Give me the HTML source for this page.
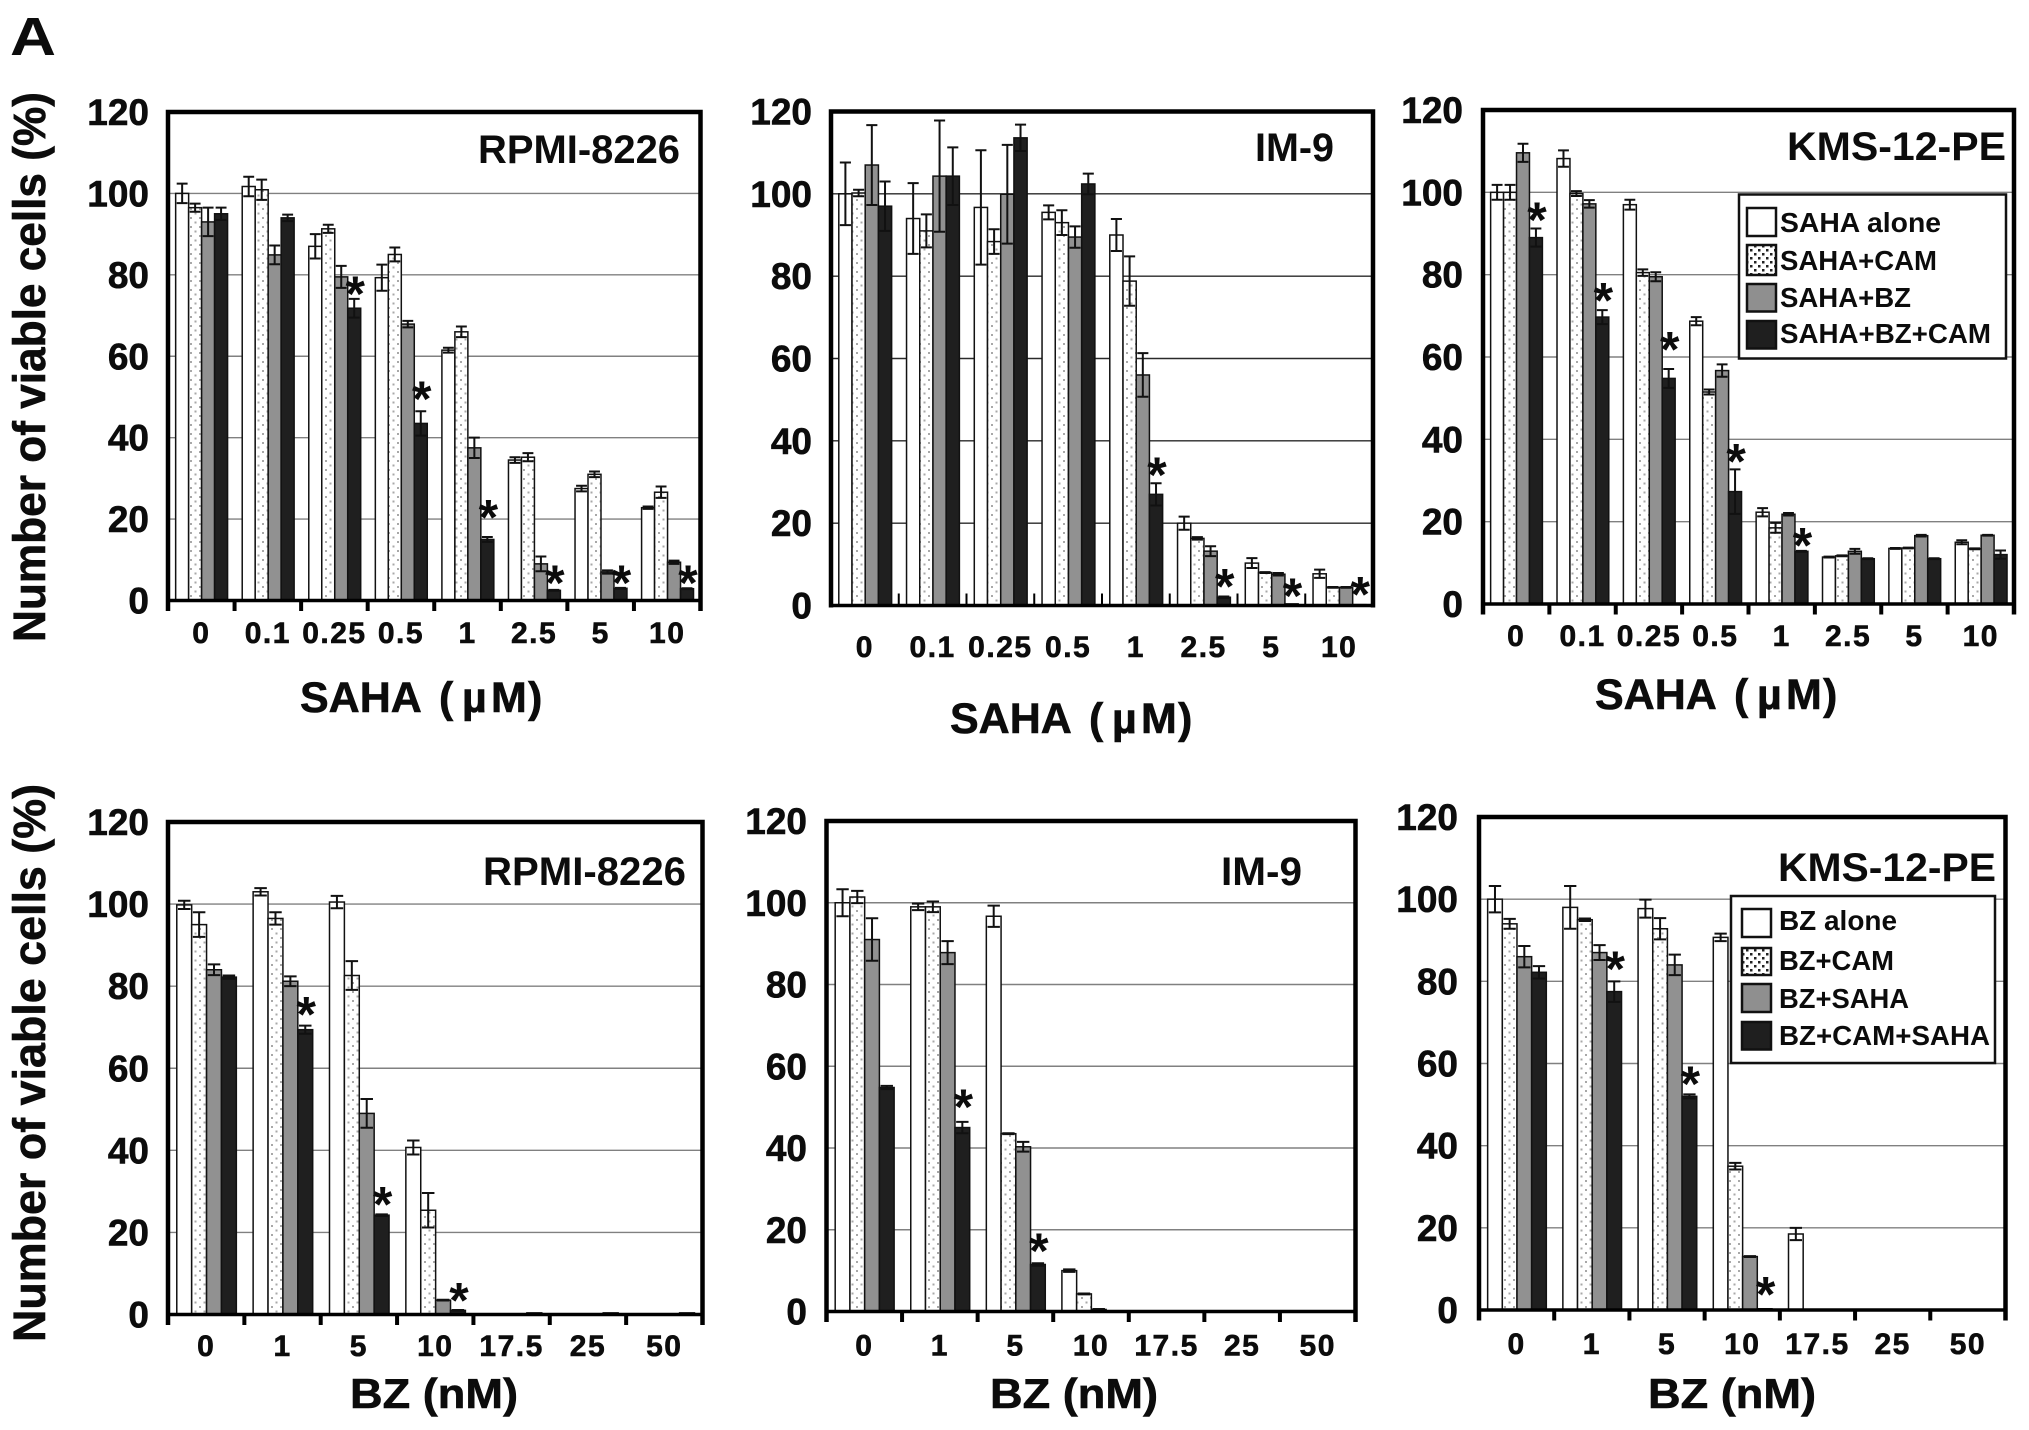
<!DOCTYPE html>
<html lang="en">
<head>
<meta charset="utf-8">
<title>Number of viable cells by SAHA and BZ dose</title>
<style>
html,body{margin:0;padding:0;background:#fff;}
svg{display:block;font-family:"Liberation Sans",sans-serif;font-weight:bold;}
text{fill:#0c0c0c;}
.axt{stroke:#0c0c0c;stroke-width:.6px;}
.leg{font-size:28px;}
.panel-label{font-size:40px;}
</style>
</head>
<body>
<svg id="figure" xmlns="http://www.w3.org/2000/svg" width="2029" height="1430" viewBox="0 0 2029 1430">
  <defs>
    <pattern id="stipple" width="9" height="9" patternUnits="userSpaceOnUse">
      <rect width="9" height="9" fill="#fff"/>
      <rect x="1" y="1" width="2" height="2" fill="#a8a8a8"/>
      <rect x="5.5" y="5.5" width="2" height="2" fill="#a8a8a8"/>
    </pattern>
    <pattern id="stipple-dark" width="8" height="8" patternUnits="userSpaceOnUse">
      <rect width="8" height="8" fill="#fff"/>
      <rect x="1" y="1" width="2.5" height="2.5" fill="#222"/>
      <rect x="5" y="5" width="2.5" height="2.5" fill="#222"/>
    </pattern>
  </defs>
  <rect width="2029" height="1430" fill="#fff"/>
  <g id="marks"></g>

  <text x="10" y="55" font-size="54" textLength="46" lengthAdjust="spacingAndGlyphs">A</text>

  <text class="axt" transform="translate(45,642) rotate(-90)" font-size="45" textLength="550" lengthAdjust="spacingAndGlyphs">Number of viable cells (%)</text>
  <text class="axt" transform="translate(45,1342) rotate(-90)" font-size="45" textLength="558" lengthAdjust="spacingAndGlyphs">Number of viable cells (%)</text>

  <text class="panel-label" x="478" y="163" textLength="202" lengthAdjust="spacingAndGlyphs">RPMI-8226</text>
  <text class="panel-label" x="1255" y="161" textLength="79" lengthAdjust="spacingAndGlyphs">IM-9</text>
  <text class="panel-label" x="1787" y="160" textLength="219" lengthAdjust="spacingAndGlyphs">KMS-12-PE</text>
  <text class="panel-label" x="483" y="885" textLength="203" lengthAdjust="spacingAndGlyphs">RPMI-8226</text>
  <text class="panel-label" x="1221" y="885" textLength="81" lengthAdjust="spacingAndGlyphs">IM-9</text>
  <text class="panel-label" x="1778" y="881" textLength="218" lengthAdjust="spacingAndGlyphs">KMS-12-PE</text>

  <text class="axt" y="712" font-size="43"><tspan x="300">SAHA</tspan><tspan x="439">(</tspan><tspan x="462">µ</tspan><tspan x="491">M</tspan><tspan x="528">)</tspan></text>
  <text class="axt" y="733" font-size="43"><tspan x="950">SAHA</tspan><tspan x="1089">(</tspan><tspan x="1112">µ</tspan><tspan x="1141">M</tspan><tspan x="1178">)</tspan></text>
  <text class="axt" y="709" font-size="43"><tspan x="1595">SAHA</tspan><tspan x="1734">(</tspan><tspan x="1757">µ</tspan><tspan x="1786">M</tspan><tspan x="1823">)</tspan></text>
  <text class="axt" x="350" y="1408" font-size="42" textLength="168" lengthAdjust="spacingAndGlyphs">BZ (nM)</text>
  <text class="axt" x="990" y="1408" font-size="42" textLength="168" lengthAdjust="spacingAndGlyphs">BZ (nM)</text>
  <text class="axt" x="1648" y="1408" font-size="42" textLength="168" lengthAdjust="spacingAndGlyphs">BZ (nM)</text>

  <g transform="translate(-3,0)">
    <rect x="1742" y="194.5" width="267" height="164" fill="#fff" stroke="#111" stroke-width="2.5"/>
    <g>
      <rect x="1750" y="208" width="29" height="28" fill="#fff" stroke="#111" stroke-width="2.5"/>
      <text class="leg" x="1783" y="232" textLength="161" lengthAdjust="spacingAndGlyphs">SAHA alone</text>
    </g>
    <g>
      <rect x="1750" y="245" width="29" height="30" fill="url(#stipple-dark)" stroke="#111" stroke-width="2.5"/>
      <text class="leg" x="1783" y="270" textLength="157" lengthAdjust="spacingAndGlyphs">SAHA+CAM</text>
    </g>
    <g>
      <rect x="1750" y="284" width="29" height="27.5" fill="#8f8f8f" stroke="#111" stroke-width="2.5"/>
      <text class="leg" x="1783" y="307" textLength="131" lengthAdjust="spacingAndGlyphs">SAHA+BZ</text>
    </g>
    <g>
      <rect x="1750" y="321" width="29" height="27.5" fill="#1f1f1f" stroke="#111" stroke-width="2.5"/>
      <text class="leg" x="1783" y="343" textLength="211" lengthAdjust="spacingAndGlyphs">SAHA+BZ+CAM</text>
    </g>
  </g>

  <g transform="translate(-3,0)">
    <rect x="1734" y="896" width="264" height="167" fill="#fff" stroke="#111" stroke-width="2.5"/>
    <g>
      <rect x="1745" y="909" width="29" height="28" fill="#fff" stroke="#111" stroke-width="2.5"/>
      <text class="leg" x="1782" y="930" textLength="118" lengthAdjust="spacingAndGlyphs">BZ alone</text>
    </g>
    <g>
      <rect x="1745" y="948" width="29" height="27" fill="url(#stipple-dark)" stroke="#111" stroke-width="2.5"/>
      <text class="leg" x="1782" y="970" textLength="115" lengthAdjust="spacingAndGlyphs">BZ+CAM</text>
    </g>
    <g>
      <rect x="1745" y="984" width="29" height="28" fill="#8f8f8f" stroke="#111" stroke-width="2.5"/>
      <text class="leg" x="1782" y="1008" textLength="130" lengthAdjust="spacingAndGlyphs">BZ+SAHA</text>
    </g>
    <g>
      <rect x="1745" y="1022" width="29" height="27.5" fill="#1f1f1f" stroke="#111" stroke-width="2.5"/>
      <text class="leg" x="1782" y="1045" textLength="211" lengthAdjust="spacingAndGlyphs">BZ+CAM+SAHA</text>
    </g>
  </g>
</svg>

<script>
// ---- categories and tick labels
const sahaDoses = ["0", "0.1", "0.25", "0.5", "1", "2.5", "5", "10"];
const bzDoses = ["0", "1", "5", "10", "17.5", "25", "50"];
const yTicks = [0, 20, 40, 60, 80, 100, 120];

// ---- RPMI-8226, SAHA titration
const rpmiSahaAlone = [100, 101.7, 87, 79.3, 61.5, 34.5, 27.5, 22.8];
const rpmiSahaCam = [96.5, 100.9, 91.3, 85, 66, 35.2, 31, 26.6];
const rpmiSahaBz = [93, 84.9, 79.5, 67.9, 37.5, 9, 7, 9.4];
const rpmiSahaTriple = [95, 94, 71.8, 43.5, 15, 2.5, 3, 2.9];
const rpmiSahaAloneErr = [2.4, 2.4, 3, 3.2, 0.6, 0.7, 0.7, 0.3];
const rpmiSahaCamErr = [1, 2.5, 1, 1.7, 1.3, 1, 0.7, 1.4];
const rpmiSahaBzErr = [3.5, 2.3, 2.7, 0.8, 2.5, 1.8, 0.4, 0.4];
const rpmiSahaTripleErr = [1.5, 0.8, 2.3, 3, 0.6, 0.1, 0.1, 0.1];
const rpmiSahaStarGroups = [2, 3, 4, 5, 6, 7];
const rpmiSahaStarLevels = [77.3, 51.5, 22.3, 6.3, 6.3, 6.3];

// ---- IM-9, SAHA titration
const imSahaAlone = [100, 94, 96.7, 95.5, 90, 20, 10.3, 7.7];
const imSahaCam = [100.2, 91, 88.4, 93, 78.8, 16.3, 8, 4.4];
const imSahaBz = [107, 104.3, 99.9, 89.5, 56, 13.2, 7.6, 4.4];
const imSahaTriple = [97, 104.3, 113.6, 102.4, 27, 2, 0.4, 0.2];
const imSahaAloneErr = [7.6, 8.6, 13.9, 1.7, 3.9, 1.6, 1.2, 1];
const imSahaCamErr = [0.8, 4, 3, 3, 6, 0.3, 0.1, 0.1];
const imSahaBzErr = [9.7, 13.5, 12, 2.6, 5.3, 1.2, 0.3, 0.1];
const imSahaTripleErr = [6, 7, 3.2, 2.5, 2.7, 0.2, 0, 0];
const imSahaStarGroups = [4, 5, 6, 7];
const imSahaStarLevels = [33.7, 6.5, 4.2, 4.6];

// ---- KMS-12-PE, SAHA titration
const kmsSahaAlone = [100, 108.2, 97, 68.7, 22.3, 11.4, 13.5, 15];
const kmsSahaCam = [100, 99.7, 80.5, 51.5, 18.5, 11.7, 13.6, 13.4];
const kmsSahaBz = [109.6, 97.2, 79.5, 56.7, 21.8, 12.8, 16.6, 16.7];
const kmsSahaTriple = [89, 69.7, 54.8, 27.3, 12.8, 11, 11, 12];
const kmsSahaAloneErr = [1.8, 2, 1.2, 1, 1, 0.1, 0.1, 0.5];
const kmsSahaCamErr = [1.8, 0.6, 0.8, 0.6, 1.2, 0.1, 0.1, 0.1];
const kmsSahaBzErr = [2.2, 0.9, 1.1, 1.5, 0.3, 0.6, 0.2, 0.1];
const kmsSahaTripleErr = [2.2, 1.7, 2.3, 5.4, 0.1, 0.1, 0.1, 1];
const kmsSahaStarGroups = [0, 1, 2, 3, 4];
const kmsSahaStarLevels = [95.2, 75.7, 63.8, 36.5, 16.2];

// ---- RPMI-8226, BZ titration
const rpmiBzAlone = [99.8, 103, 100.5, 40.7, 0, 0, 0];
const rpmiBzCam = [95, 96.5, 82.6, 25.4, 0.1, 0, 0];
const rpmiBzSaha = [84, 81.2, 49, 3.5, 0.1, 0.1, 0.1];
const rpmiBzTriple = [82.2, 69.4, 24.2, 1, 0.4, 0.4, 0.4];
const rpmiBzAloneErr = [1, 0.9, 1.5, 1.7, 0, 0, 0];
const rpmiBzCamErr = [3, 1.5, 3.5, 4.2, 0, 0, 0];
const rpmiBzSahaErr = [1.3, 1.2, 3.5, 0.1, 0, 0, 0];
const rpmiBzTripleErr = [0.4, 1, 0.2, 0.1, 0, 0, 0];
const rpmiBzStarGroups = [1, 2, 3];
const rpmiBzStarLevels = [75.1, 28.7, 5.4];

// ---- IM-9, BZ titration
const imBzAlone = [100, 99, 96.7, 10, 0, 0, 0];
const imBzCam = [101.4, 99, 43.5, 4.3, 0, 0, 0];
const imBzSaha = [91, 87.8, 40.3, 0.5, 0, 0, 0];
const imBzTriple = [54.8, 45, 11.5, 0, 0, 0, 0];
const imBzAloneErr = [3.3, 0.8, 2.6, 0.3, 0, 0, 0];
const imBzCamErr = [1.5, 1.3, 0.1, 0.1, 0, 0, 0];
const imBzSahaErr = [5.2, 2.8, 1.2, 0.1, 0, 0, 0];
const imBzTripleErr = [0.4, 1.4, 0.3, 0, 0, 0, 0];
const imBzStarGroups = [1, 2];
const imBzStarLevels = [52, 16.7];

// ---- KMS-12-PE, BZ titration
const kmsBzAlone = [100, 98, 97.7, 90.7, 18.5, 0, 0];
const kmsBzCam = [94, 95, 92.8, 35, 0, 0, 0];
const kmsBzSaha = [86, 87, 84, 13, 0, 0, 0];
const kmsBzTriple = [82.2, 77.5, 52, 0.3, 0, 0, 0];
const kmsBzAloneErr = [3.2, 5.2, 2.2, 0.9, 1.5, 0, 0];
const kmsBzCamErr = [1.2, 0.3, 2.6, 0.8, 0, 0, 0];
const kmsBzSahaErr = [2.6, 1.8, 2.5, 0.1, 0, 0, 0];
const kmsBzTripleErr = [1.5, 2.5, 0.5, 0, 0, 0, 0];
const kmsBzStarGroups = [1, 2, 3];
const kmsBzStarLevels = [84.9, 57, 5.7];

// ---- series styling
const seriesFills = ["#ffffff", "url(#stipple)", "#919191", "#1f1f1f"];

const SVGNS = "http://www.w3.org/2000/svg";
const marksLayer = document.getElementById("marks");

function make(parent, tag, attrs, text) {
  const node = document.createElementNS(SVGNS, tag);
  for (const key in attrs) node.setAttribute(key, attrs[key]);
  if (text !== undefined) node.textContent = text;
  parent.appendChild(node);
  return node;
}

function drawPanel(panel) {
  const { left, right, top, bottom, labelRight, tickBase, inward, gridColor, cats, values, errors, starGroups, starLevels, name } = panel;

  const root = make(marksLayer, "g", {});
  
  

  const yScale = v => bottom - v * (bottom - top) / 120;
  const groupW = (right - left) / cats.length;
  const barW = groupW * 0.195;
  const groupX = i => left + groupW * i;
  const barX = (g, s) => groupX(g) + groupW * 0.115 + barW * s;

  yTicks.forEach(t => {
    if (t !== 0 && t !== 120) {
      const grid = make(root, "line", { x1: left, x2: right, y1: yScale(t), y2: yScale(t), stroke: gridColor, "stroke-width": 1.4 });
      
      
    }
    const label = make(root, "text", { x: labelRight, y: yScale(t) + 13, "font-size": 37, "text-anchor": "end", class: "axt" }, String(t));
    
    
  });

  values.forEach((series, s) => {
    series.forEach((v, g) => {
      const bar = make(root, "rect", { x: barX(g, s), y: yScale(v), width: barW, height: bottom - yScale(v), fill: seriesFills[s], stroke: "#111", "stroke-width": 1.5 });
      
      
    });
  });

  errors.forEach((series, s) => {
    series.forEach((e, g) => {
      if (e <= 0) return;
      const cx = barX(g, s) + barW / 2;
      const cap = barW * 0.42;
      const hi = yScale(values[s][g] + e);
      const lo = yScale(values[s][g] - e);
      const whisker = make(root, "path", {
        d: `M${cx - cap} ${hi}H${cx + cap}M${cx} ${hi}V${lo}M${cx - cap} ${lo}H${cx + cap}`,
        fill: "none", stroke: "#111", "stroke-width": 2
      });
      
      
    });
  });

  starGroups.forEach((g, i) => {
    const star = make(root, "text", { x: barX(g, 3) + barW / 2 + 1, y: yScale(starLevels[i]) + 25, "font-size": 50, "text-anchor": "middle" }, "*");
    
    
  });

  const xAxis = make(root, "line", { x1: left, x2: right, y1: bottom, y2: bottom, stroke: "#000", "stroke-width": 3.5 });
  
  

  const frameBottom = inward ? bottom + 2 : bottom + 10.5;
  const frame = make(root, "path", { d: `M${left} ${frameBottom}V${top}H${right}V${frameBottom}`, fill: "none", stroke: "#000", "stroke-width": 4.5 });
  
  

  cats.forEach((c, i) => {
    if (i > 0) {
      const tx = groupX(i);
      const tick = make(root, "line", { x1: tx, x2: tx, y1: bottom, y2: inward ? bottom - 12 : bottom + 10.5, stroke: "#000", "stroke-width": inward ? 2 : 4 });
      
      
    }
    const label = make(root, "text", { x: groupX(i) + groupW / 2, y: tickBase, "font-size": 30, "text-anchor": "middle", "letter-spacing": 1.5, class: "axt" }, c);
    
    
  });
}

drawPanel({
  name: "chart-rpmi-saha", left: 168, right: 700.5, top: 112, bottom: 600.5, labelRight: 149, tickBase: 643, inward: false, gridColor: "#808080",
  cats: sahaDoses,
  values: [rpmiSahaAlone, rpmiSahaCam, rpmiSahaBz, rpmiSahaTriple],
  errors: [rpmiSahaAloneErr, rpmiSahaCamErr, rpmiSahaBzErr, rpmiSahaTripleErr],
  starGroups: rpmiSahaStarGroups, starLevels: rpmiSahaStarLevels
});
drawPanel({
  name: "chart-im9-saha", left: 831, right: 1373, top: 111.5, bottom: 605.5, labelRight: 812, tickBase: 657, inward: true, gridColor: "#2a2a2a",
  cats: sahaDoses,
  values: [imSahaAlone, imSahaCam, imSahaBz, imSahaTriple],
  errors: [imSahaAloneErr, imSahaCamErr, imSahaBzErr, imSahaTripleErr],
  starGroups: imSahaStarGroups, starLevels: imSahaStarLevels
});
drawPanel({
  name: "chart-kms-saha", left: 1483, right: 2014, top: 110, bottom: 604, labelRight: 1463, tickBase: 646, inward: false, gridColor: "#808080",
  cats: sahaDoses,
  values: [kmsSahaAlone, kmsSahaCam, kmsSahaBz, kmsSahaTriple],
  errors: [kmsSahaAloneErr, kmsSahaCamErr, kmsSahaBzErr, kmsSahaTripleErr],
  starGroups: kmsSahaStarGroups, starLevels: kmsSahaStarLevels
});
drawPanel({
  name: "chart-rpmi-bz", left: 168, right: 702.5, top: 822, bottom: 1314.5, labelRight: 149, tickBase: 1356, inward: false, gridColor: "#808080",
  cats: bzDoses,
  values: [rpmiBzAlone, rpmiBzCam, rpmiBzSaha, rpmiBzTriple],
  errors: [rpmiBzAloneErr, rpmiBzCamErr, rpmiBzSahaErr, rpmiBzTripleErr],
  starGroups: rpmiBzStarGroups, starLevels: rpmiBzStarLevels
});
drawPanel({
  name: "chart-im9-bz", left: 826.5, right: 1355.5, top: 821, bottom: 1311.5, labelRight: 807, tickBase: 1355.5, inward: false, gridColor: "#808080",
  cats: bzDoses,
  values: [imBzAlone, imBzCam, imBzSaha, imBzTriple],
  errors: [imBzAloneErr, imBzCamErr, imBzSahaErr, imBzTripleErr],
  starGroups: imBzStarGroups, starLevels: imBzStarLevels
});
drawPanel({
  name: "chart-kms-bz", left: 1479, right: 2005.5, top: 817, bottom: 1310, labelRight: 1458, tickBase: 1354, inward: false, gridColor: "#808080",
  cats: bzDoses,
  values: [kmsBzAlone, kmsBzCam, kmsBzSaha, kmsBzTriple],
  errors: [kmsBzAloneErr, kmsBzCamErr, kmsBzSahaErr, kmsBzTripleErr],
  starGroups: kmsBzStarGroups, starLevels: kmsBzStarLevels
});
</script>
</body>
</html>
